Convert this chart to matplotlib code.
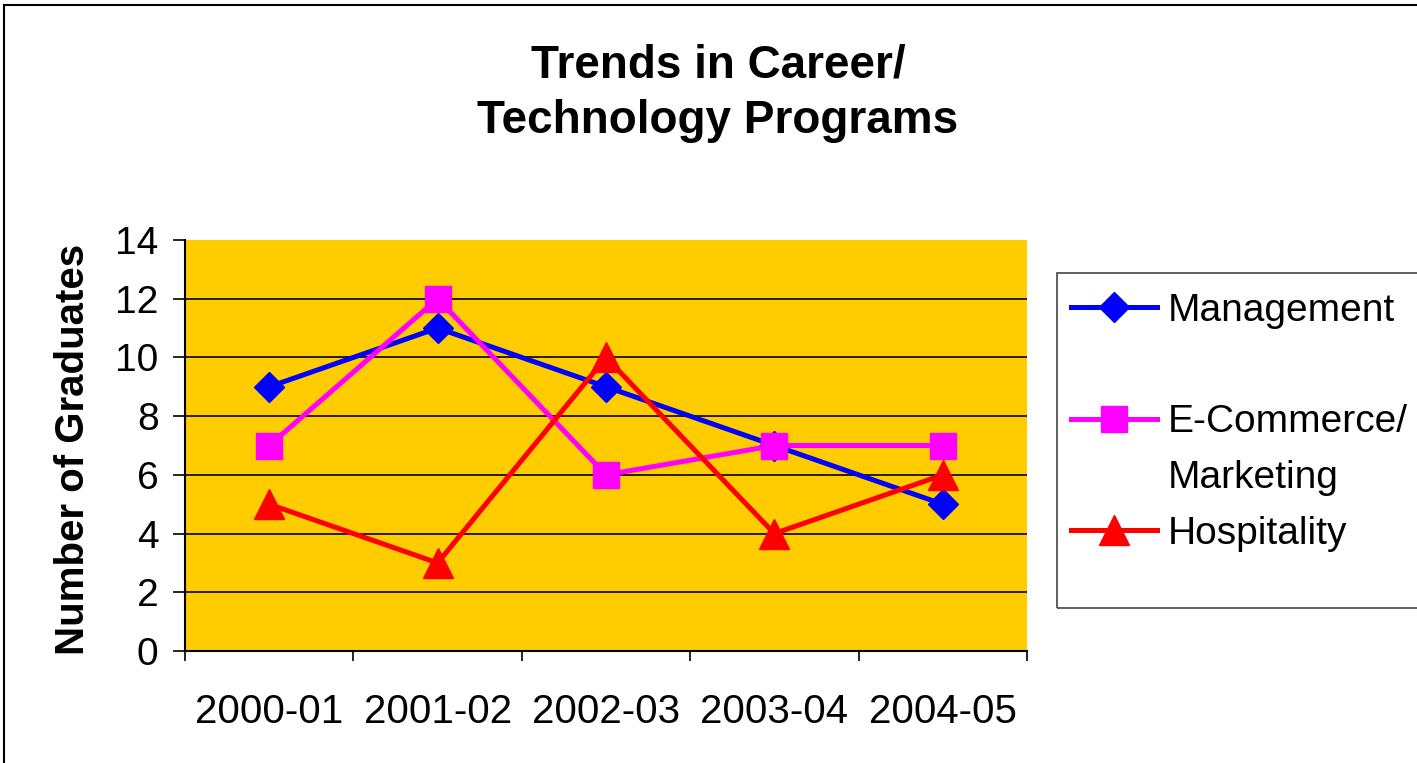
import matplotlib
matplotlib.use("Agg")
import matplotlib.pyplot as plt
from matplotlib.patches import Rectangle
from matplotlib.lines import Line2D

plt.rcParams['font.family'] = ['Liberation Sans', 'DejaVu Sans']

# data
years = ['2000-01', '2001-02', '2002-03', '2003-04', '2004-05']
management = [9, 11, 9, 7, 5]
ecommerce = [7, 12, 6, 7, 7]
hospitality = [5, 3, 10, 4, 6]

W, H = 1417, 763
fig = plt.figure(figsize=(W / 100, H / 100), dpi=100)
fig.patch.set_facecolor('white')

# outer chart frame
fig.patches.append(Rectangle((4 / W, -0.02), 1.1, 1 - 5 / H + 0.02, transform=fig.transFigure,
                             fill=False, ec='black', lw=1.5))

ax = fig.add_axes([185 / W, 112 / H, 842 / W, 411 / H])
ax.set_facecolor('#FFCC00')

x = [i + 0.5 for i in range(len(years))]
l1, = ax.plot(x, management, color='#0000FF', lw=3.6, marker='D', ms=15, mec='#0000FF', label='Management')
l2, = ax.plot(x, ecommerce, color='#FF00FF', lw=3.6, marker='s', ms=19, mec='#FF00FF', label='E-Commerce/')
l3, = ax.plot(x, hospitality, color='#FF0000', lw=3.6, marker='^', ms=21, mec='#FF0000', label='Hospitality')

ax.set_xlim(0, len(years))
ax.set_ylim(0, 14)
ax.set_yticks(range(0, 15, 2))
ax.set_xticks(range(len(years) + 1))
ax.set_xticklabels([])
ax.set_xticks(x, minor=True)
ax.set_xticklabels(years, minor=True)
ax.tick_params(axis='x', which='major', direction='out', length=7, width=1.2)
ax.tick_params(axis='x', which='minor', length=0, pad=30, labelsize=29)
ax.tick_params(axis='y', direction='out', length=9, width=1.2, pad=10, labelsize=28)

for s in ['top', 'right']:
    ax.spines[s].set_visible(False)
for s in ['left', 'bottom']:
    ax.spines[s].set_linewidth(1.5)

ax.yaxis.grid(True, color='black', lw=1.2)
ax.set_axisbelow(True)
ax.get_ygridlines()[-1].set_visible(False)

ax.set_ylabel('Number of Graduates', fontsize=29, fontweight='bold')
ax.yaxis.set_label_coords(-0.11, 0.49)

fig.text(718 / W, 1 - 93 / H, 'Trends in Career/\nTechnology Programs', ha='center', va='center',
         fontsize=33, fontweight='bold', linespacing=1.34)

# legend frame
fig.patches.append(Rectangle((1057 / W, 1 - 608 / H), 0.5, (608 - 273) / H, transform=fig.transFigure,
                             fill=False, ec='#444444', lw=1.2))
blank = Line2D([], [], color='none')
fig.legend([l1, blank, l2, blank, l3], ['Management', ' ', 'E-Commerce/', 'Marketing', 'Hospitality'],
           loc='upper left', bbox_to_anchor=(1071 / W, 1 - 293 / H), frameon=False, fontsize=28,
           handlelength=2.2, handletextpad=0.28, labelspacing=0.505, borderpad=0, borderaxespad=0,
           numpoints=1)

fig.savefig('out.png', dpi=100)
